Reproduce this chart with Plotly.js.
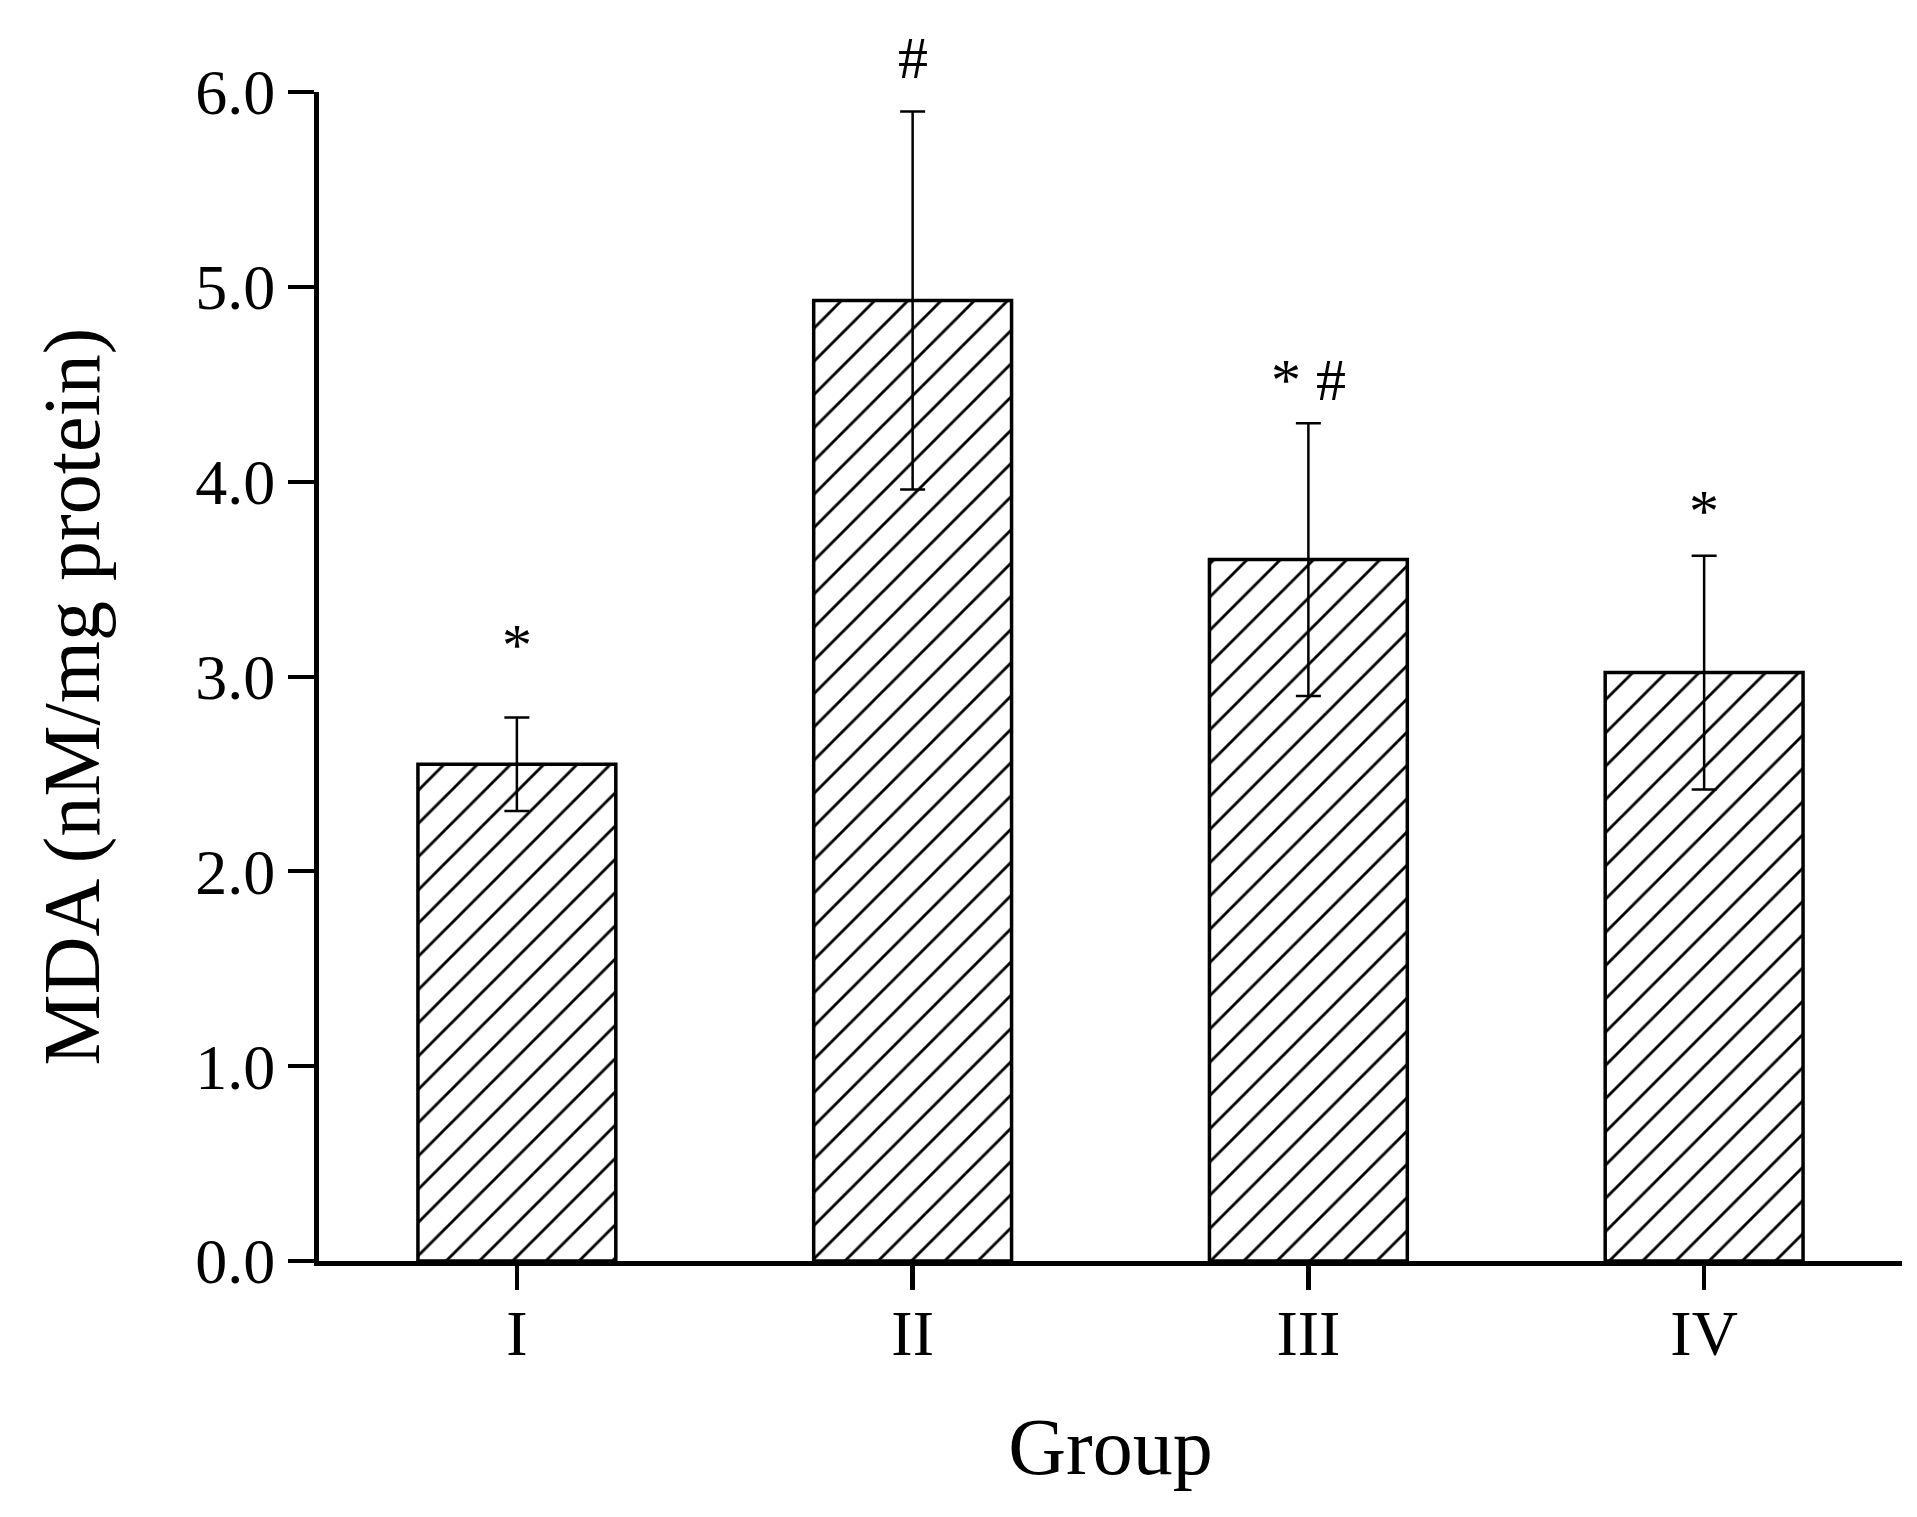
<!DOCTYPE html>
<html>
<head>
<meta charset="utf-8">
<script src="https://cdn.plot.ly/plotly-3.0.1.min.js"></script>
<style>
  html, body { margin: 0; padding: 0; background: #fff; }
  #myDiv { width: 1917px; height: 1517px; }
</style>
</head>
<body>
<div id="myDiv"></div>
<script>
// ======== DATA ========
var groups = ['I', 'II', 'III', 'IV'];
var mda = [2.55, 4.93, 3.60, 3.02];      // mean MDA, nM/mg protein
var mdaSD = [0.24, 0.97, 0.70, 0.60];    // error bars
var marks = ['*', '#', '* #', '*'];      // significance marks

var FONT = 'Liberation Serif, Times New Roman, serif';

// ======== TRACE ========
var trace = {
  x: groups,
  y: mda,
  type: 'bar',
  width: 0.5,
  marker: {
    color: 'white',
    line: { color: 'black', width: 3.5 },
    pattern: {
      shape: '/',
      fgcolor: 'black',
      bgcolor: 'white',
      size: 23.5,     // tile is size*sqrt(2) -> ~33px line spacing
      solidity: 0.12  // stroke = solidity*size
    }
  },
  error_y: {
    type: 'data',
    array: mdaSD,
    visible: true,
    color: 'black',
    thickness: 2.5,
    width: 12.5
  },
  hoverinfo: 'none'
};

// marks sit a few px above each error bar top
var markShift = [37, 18, 8, 10];
var annotations = groups.map(function(g, i) {
  return {
    x: g,
    y: mda[i] + mdaSD[i],
    xref: 'x',
    yref: 'y',
    text: marks[i],
    showarrow: false,
    yanchor: 'bottom',
    yshift: markShift[i],
    font: { family: FONT, size: 60, color: 'black' }
  };
});

// y title as annotation (sits a bit below the axis centre in the original)
annotations.push({
  text: 'MDA (nM/mg protein)',
  xref: 'paper',
  yref: 'paper',
  x: -0.156,
  y: 0.483,
  xanchor: 'center',
  yanchor: 'middle',
  textangle: -90,
  showarrow: false,
  font: { family: FONT, size: 80, color: 'black' }
});

// ======== LAYOUT ========
var layout = {
  width: 1917,
  height: 1517,
  margin: { l: 319, r: 15, t: 92, b: 256, pad: 0 },
  paper_bgcolor: 'white',
  plot_bgcolor: 'white',
  showlegend: false,
  font: { family: FONT, color: 'black' },
  xaxis: {
    range: [-0.5, 3.5],
    showgrid: false,
    zeroline: false,
    showline: true,
    linecolor: 'black',
    linewidth: 5,
    ticks: 'outside',
    ticklen: 24,
    tickwidth: 4.5,
    tickcolor: 'black',
    ticklabelstandoff: -12,
    tickfont: { family: FONT, size: 64, color: 'black' },
    title: { text: 'Group', font: { family: FONT, size: 80, color: 'black' }, standoff: 52 }
  },
  yaxis: {
    range: [0, 6],
    dtick: 1,
    tickformat: '.1f',
    showgrid: false,
    zeroline: false,
    showline: true,
    linecolor: 'black',
    linewidth: 5,
    ticks: 'outside',
    ticklen: 26,
    tickwidth: 4,
    tickcolor: 'black',
    tickfont: { family: FONT, size: 64, color: 'black' }
  },
  annotations: annotations
};

var config = { displayModeBar: false, staticPlot: true };

Plotly.newPlot('myDiv', [trace], layout, config);
</script>
</body>
</html>
